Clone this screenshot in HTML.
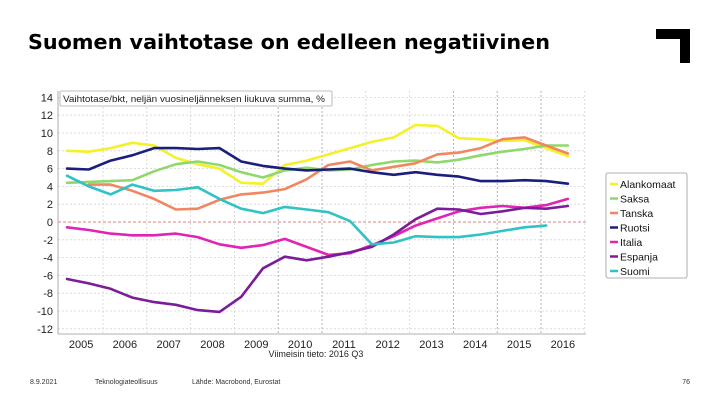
<!DOCTYPE html>
<html><head><meta charset="utf-8">
<style>
body{margin:0;background:#fff;}
#wrap{position:relative;width:720px;height:405px;overflow:hidden;font-family:"Liberation Sans",sans-serif;}
</style></head>
<body>
<div id="wrap">
<svg id="chart" width="720" height="405" viewBox="0 0 720 405">
  <text x="28" y="49" font-size="20" font-weight="bold" fill="#000" font-family="DejaVu Sans, sans-serif" textLength="522" lengthAdjust="spacingAndGlyphs">Suomen vaihtotase on edelleen negatiivinen</text>
  <path d="M656,29 H690 V63 H680 V39 H656 Z" fill="#000"/>
  <g id="grid"></g>
  <g id="axes"></g>
  <g id="series"></g>
  <g>
    <rect x="60" y="91" width="272" height="15" fill="#fff" stroke="#aaa" stroke-width="0.8" rx="1"/>
    <text x="63" y="102" font-size="9.5" fill="#222" textLength="262" lengthAdjust="spacingAndGlyphs">Vaihtotase/bkt, neljän vuosineljänneksen liukuva summa, %</text>
  </g>
  <text x="316" y="357" font-size="9" fill="#222" text-anchor="middle">Viimeisin tieto: 2016 Q3</text>
  <g id="legend">
    <rect x="606" y="173" width="81" height="105" fill="#fff" stroke="#999" stroke-width="0.8" rx="2"/>
  </g>
  <text x="30" y="384" font-size="7" fill="#333">8.9.2021</text>
  <text x="95" y="384" font-size="7" fill="#333">Teknologiateollisuus</text>
  <text x="192" y="384" font-size="7" fill="#333">Lähde: Macrobond, Eurostat</text>
  <text x="690" y="384" font-size="7" fill="#333" text-anchor="end">76</text>
</svg>
</div>
<script>
// Half-yearly sample points from 2005 Q1 (index 0) to 2016 Q3 (index 23)
const sampleQuarters = [0,2,4,6,8,10,12,14,16,18,20,22,24,26,28,30,32,34,36,38,40,42,44,46];
const yearLabels = ["2005","2006","2007","2008","2009","2010","2011","2012","2013","2014","2015","2016"];
const yTicks = [14,12,10,8,6,4,2,0,-2,-4,-6,-8,-10,-12];
const seriesNames = ["Alankomaat","Saksa","Tanska","Ruotsi","Italia","Espanja","Suomi"];
const alankomaat = [8.0,7.9,8.3,8.9,8.6,7.2,6.5,6.0,4.4,4.3,6.4,6.9,7.6,8.3,9.0,9.5,10.9,10.8,9.4,9.3,9.1,9.2,8.3,7.4];
const saksa = [4.4,4.5,4.6,4.7,5.7,6.5,6.8,6.4,5.6,5.0,5.8,6.1,5.8,5.9,6.4,6.8,6.9,6.7,7.0,7.5,7.9,8.2,8.6,8.6];
const tanska = [null,4.2,4.2,3.5,2.6,1.4,1.5,2.5,3.1,3.3,3.7,4.8,6.4,6.8,5.8,6.2,6.6,7.6,7.8,8.3,9.3,9.5,8.6,7.7];
const ruotsi = [6.0,5.9,6.9,7.5,8.3,8.3,8.2,8.3,6.8,6.3,6.0,5.8,5.9,6.0,5.6,5.3,5.6,5.3,5.1,4.6,4.6,4.7,4.6,4.3];
const italia = [-0.6,-0.9,-1.3,-1.5,-1.5,-1.3,-1.7,-2.5,-2.9,-2.6,-1.9,-2.8,-3.7,-3.5,-2.6,-1.6,-0.4,0.4,1.2,1.6,1.8,1.6,1.9,2.6];
const espanja = [-6.4,-6.9,-7.5,-8.5,-9.0,-9.3,-9.9,-10.1,-8.4,-5.2,-3.9,-4.3,-3.9,-3.4,-2.8,-1.4,0.3,1.5,1.4,0.9,1.2,1.6,1.5,1.8];
const suomi = [5.2,4.0,3.1,4.2,3.5,3.6,3.9,2.6,1.5,1.0,1.7,1.4,1.1,0.1,-2.5,-2.3,-1.6,-1.7,-1.7,-1.4,-1.0,-0.6,-0.4,null];
const seriesColors = ["#f4f02a","#8ed86c","#f08760","#1b1f7c","#e024b4","#7b1d98","#2fc3c6"];

const NS = "http://www.w3.org/2000/svg";
function xq(q){ return 67 + q*10.89; }
function xYearStart(y){ return 59.2 + (y-2005)*43.8; }
function yv(v){ return 222 - v*8.9; }
function mk(tag, attrs, parent){ const e=document.createElementNS(NS,tag); for(const k in attrs) e.setAttribute(k,attrs[k]); parent.appendChild(e); return e; }

const grid=document.getElementById('grid'), axes=document.getElementById('axes'), ser=document.getElementById('series'), leg=document.getElementById('legend');

yTicks.forEach(t=>{
  if(t!==0){
    const l=mk('line',{x1:58,x2:586,y1:yv(t),y2:yv(t),stroke:'#d4d4d4','stroke-width':0.8,'stroke-dasharray':'2,2'},grid);
    
    
  }
  const tx=mk('text',{x:53,y:yv(t)+4,'font-size':11,'text-anchor':'end',fill:'#222'},axes);
  tx.textContent=t;
  
  
});
for(let y=2006;y<=2017;y++){
  const dark=[2010,2011,2014,2015,2016].includes(y);
  const l=mk('line',{x1:xYearStart(y),x2:xYearStart(y),y1:91,y2:334,stroke:dark?'#9aa0aa':'#d4d4d4','stroke-width':0.8,'stroke-dasharray':'2,2'},grid);
  
  
}
const zl=mk('line',{x1:58,x2:586,y1:yv(0),y2:yv(0),stroke:'#e08080','stroke-width':0.9,'stroke-dasharray':'3,2'},grid);


const ya=mk('line',{x1:58,x2:58,y1:91,y2:334,stroke:'#999','stroke-width':0.8},axes);


const xa=mk('line',{x1:58,x2:586,y1:334,y2:334,stroke:'#999','stroke-width':0.8},axes);


yearLabels.forEach((lab,i)=>{
  const tx=mk('text',{x:xYearStart(2005+i)+21.9,y:348,'font-size':11,'text-anchor':'middle',fill:'#222'},axes);
  tx.textContent=lab;
  
  
});

const allSeries=[alankomaat,saksa,tanska,ruotsi,italia,espanja,suomi];
allSeries.forEach((vals,si)=>{
  let d='';
  vals.forEach((v,i)=>{ if(v===null) return; d+=(d?'L':'M')+xq(sampleQuarters[i]).toFixed(1)+','+yv(v).toFixed(1); });
  const p=mk('path',{d:d,fill:'none',stroke:seriesColors[si],'stroke-width':2.6,'stroke-linejoin':'round','stroke-linecap':'round'},ser);
  
  
  const y=184+si*14.5;
  const sw=mk('line',{x1:610,x2:618,y1:y,y2:y,stroke:seriesColors[si],'stroke-width':2.5},leg);
  
  
  const t=mk('text',{x:620,y:y+4,'font-size':10.5,fill:'#111'},leg);
  t.textContent=seriesNames[si];
  
  
});
</script>
</body></html>
